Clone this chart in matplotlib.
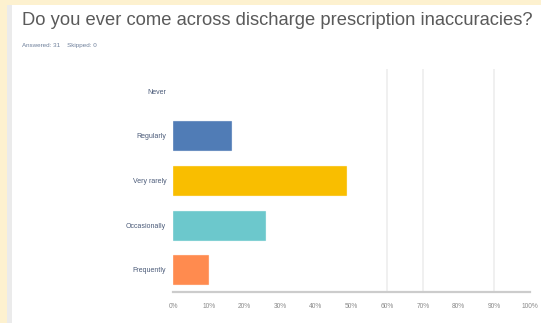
import matplotlib.pyplot as plt
from matplotlib.patches import Rectangle

# survey answers, N = 31
answers = ["Never", "Regularly", "Very rarely", "Occasionally", "Frequently"]
percent = [0.0, 16.13, 48.39, 25.81, 9.68]
bar_colors = ["#507cb6", "#507cb6", "#f9be00", "#6cc8cc", "#ff8b4f"]
ticks = [0, 10, 20, 30, 40, 50, 60, 70, 80, 90, 100]
tick_labels = [f"{t}%" for t in ticks]
grid_at = [60, 70, 90]

title = "Do you ever come across discharge prescription inaccuracies?"
subtitle = "Answered: 31    Skipped: 0"

plt.rcParams["font.family"] = ["Liberation Sans", "DejaVu Sans"]

fig = plt.figure(figsize=(5.41, 3.23), dpi=100)
fig.patch.set_facecolor("#fdf1cf")

# background card: white with a soft shadow on its left edge
bg = fig.add_axes([0, 0, 1, 1], zorder=-1)
bg.set_xlim(0, 1)
bg.set_ylim(0, 1)
bg.axis("off")
bg.add_patch(Rectangle((0.013, 0.0), 0.99, 0.985, facecolor="#ebebeb",
                       edgecolor="none"))
bg.add_patch(Rectangle((0.022, 0.0), 0.99, 0.985, facecolor="white",
                       edgecolor="none"))

fig.text(0.041, 0.937, title, fontsize=13.2, color="#5a5a5a", va="center")
fig.text(0.041, 0.86, subtitle, fontsize=4.5, color="#6d7f9a", va="center")

ax = fig.add_axes([0.320, 0.096, 0.660, 0.690])
ax.set_facecolor("none")

y = list(range(len(answers)))
edges = [c + "aa" if v > 0 else "none" for c, v in zip(bar_colors, percent)]
ax.barh(y, percent, height=0.65, color=bar_colors,
        edgecolor=edges, linewidth=0.8, zorder=3)

for g in grid_at:
    ax.axvline(g, color="#eeeeee", lw=1.2, zorder=1)

ax.set_xlim(0, 100)
ax.set_ylim(len(answers) - 0.5, -0.5)
ax.set_xticks(ticks)
ax.set_xticklabels(tick_labels)
ax.set_yticks(y)
ax.set_yticklabels(answers)
ax.tick_params(axis="x", length=0, labelsize=4.8, colors="#8a8a8a", pad=8)
ax.tick_params(axis="y", length=0, labelsize=5, colors="#4a5a78", pad=5)

for side in ["top", "right", "left"]:
    ax.spines[side].set_visible(False)
ax.spines["bottom"].set_color("#cccccc")
ax.spines["bottom"].set_linewidth(1.6)

fig.savefig("out.png", dpi=100, facecolor=fig.get_facecolor())
